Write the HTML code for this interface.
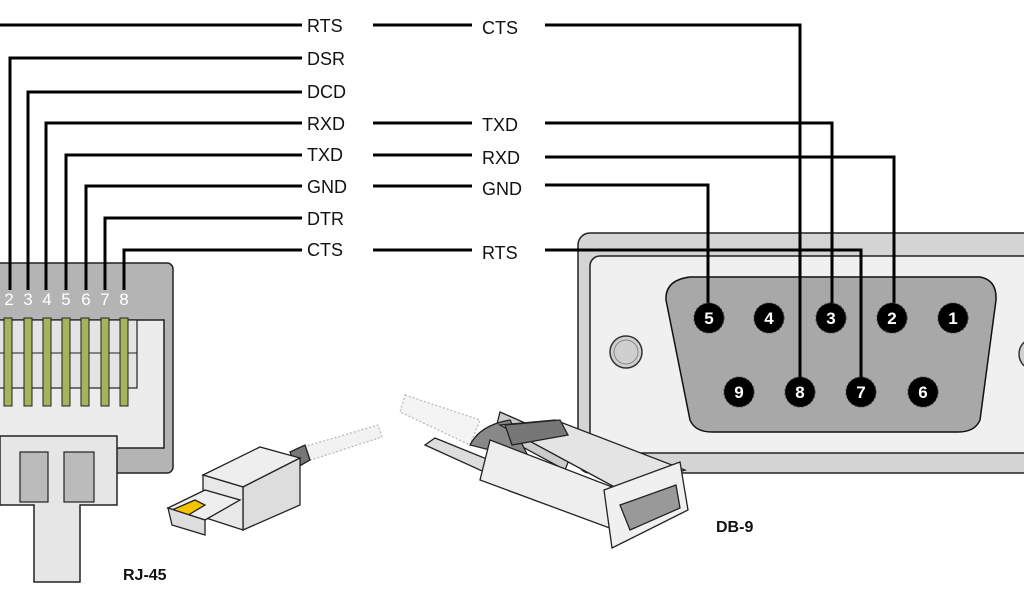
<!DOCTYPE html>
<html><head><style>
html,body{margin:0;padding:0;background:#fff;width:1024px;height:600px;overflow:hidden}
svg text{font-family:"Liberation Sans",sans-serif}
</style></head><body>
<svg width="1024" height="600" viewBox="0 0 1024 600" xmlns="http://www.w3.org/2000/svg">
<!-- DB9 panel -->
<rect x="578" y="233" width="460" height="240" rx="12" fill="#d4d4d4" stroke="#222" stroke-width="1.5"/>
<rect x="590" y="256" width="450" height="197" rx="10" fill="#f0f0f0" stroke="#222" stroke-width="1.5"/>
<path d="M690 277 L980 277 Q997 280 996 300 L980 420 Q975 432 958 432 L712 432 Q695 432 690 420 L666 300 Q665 280 690 277 Z" fill="#a8a8a8" stroke="#111" stroke-width="1.5"/>
<circle cx="626" cy="352" r="16" fill="#d0d0d0" stroke="#333" stroke-width="1.5"/>
<circle cx="626" cy="352" r="12" fill="#cfcfcf" stroke="#888" stroke-width="1"/>
<circle cx="1035" cy="354" r="16" fill="#d0d0d0" stroke="#333" stroke-width="1.5"/>
<!-- RJ45 big -->
<rect x="-10" y="263" width="183" height="210" rx="6" fill="#b4b4b4" stroke="#222" stroke-width="1.5"/>
<rect x="-10" y="320" width="174" height="128" fill="#ececec" stroke="#222" stroke-width="1.5"/>
<rect x="-10" y="320" width="147" height="68" fill="#e4e4e4" stroke="#222" stroke-width="1.2"/>
<line x1="0" y1="353" x2="137" y2="353" stroke="#222" stroke-width="1"/>
<path d="M0 436 L117 436 L117 505 L80 505 L80 582 L34 582 L34 505 L0 505 Z" fill="#e6e6e6" stroke="#222" stroke-width="1.5"/>
<rect x="20" y="452" width="28" height="50" fill="#bbb" stroke="#222" stroke-width="1.2"/>
<rect x="64" y="452" width="30" height="50" fill="#bbb" stroke="#222" stroke-width="1.2"/>
<g fill="#a7b35a" stroke="#222" stroke-width="1">
<rect x="4" y="318" width="8" height="88"/><rect x="24" y="318" width="8" height="88"/><rect x="43" y="318" width="8" height="88"/><rect x="62" y="318" width="8" height="88"/><rect x="81" y="318" width="8" height="88"/><rect x="101" y="318" width="8" height="88"/><rect x="120" y="318" width="8" height="88"/>
</g>
<g fill="#fff" font-size="17" text-anchor="middle">
<text x="9" y="305">2</text><text x="28" y="305">3</text><text x="47" y="305">4</text><text x="66" y="305">5</text><text x="86" y="305">6</text><text x="105" y="305">7</text><text x="124" y="305">8</text>
</g>
<!-- wires -->
<g fill="none" stroke="#000" stroke-width="3">
<path d="M0 25 H302"/>
<path d="M10 290 V58 H302"/>
<path d="M28 290 V92 H302"/>
<path d="M46 290 V123 H302"/>
<path d="M66 290 V155 H302"/>
<path d="M86 290 V186 H302"/>
<path d="M105 290 V218 H302"/>
<path d="M124 290 V250 H302"/>
<path d="M373 25 H472"/><path d="M373 123 H472"/><path d="M373 155 H472"/><path d="M373 186 H472"/><path d="M373 250 H472"/>
<path d="M545 25 H800 V392"/>
<path d="M545 123 H832 V318"/>
<path d="M545 157 H894 V318"/>
<path d="M545 185 H708 V318"/>
<path d="M545 250 H861 V392"/>
</g>
<g font-size="18" fill="#111">
<text x="307" y="32">RTS</text><text x="307" y="65">DSR</text><text x="307" y="98">DCD</text><text x="307" y="130">RXD</text><text x="307" y="161">TXD</text><text x="307" y="193">GND</text><text x="307" y="225">DTR</text><text x="307" y="256">CTS</text>
<text x="482" y="34">CTS</text><text x="482" y="131">TXD</text><text x="482" y="164">RXD</text><text x="482" y="195">GND</text><text x="482" y="259">RTS</text>
</g>
<!-- DB9 pins -->
<g fill="#000" stroke="#333" stroke-width="1" stroke-dasharray="2 2">
<circle cx="709" cy="318" r="15"/><circle cx="769" cy="318" r="15"/><circle cx="831" cy="318" r="15"/><circle cx="892" cy="318" r="15"/><circle cx="953" cy="318" r="15"/>
<circle cx="739" cy="392" r="15"/><circle cx="800" cy="392" r="15"/><circle cx="861" cy="392" r="15"/><circle cx="923" cy="392" r="15"/>
</g>
<g fill="#fff" font-size="17" font-weight="bold" text-anchor="middle">
<text x="709" y="324">5</text><text x="769" y="324">4</text><text x="831" y="324">3</text><text x="892" y="324">2</text><text x="953" y="324">1</text>
<text x="739" y="398">9</text><text x="800" y="398">8</text><text x="861" y="398">7</text><text x="923" y="398">6</text>
</g>
<!-- small RJ45 plug -->
<g stroke="#222" stroke-width="1.3">
<path d="M300 448 L378 425 L382 437 L305 462 Z" fill="#f2f2f2" stroke="#bbb" stroke-dasharray="2 2"/>
<path d="M290 452 L305 445 L310 460 L296 468 Z" fill="#777"/>
<path d="M203 475 L260 447 L300 458 L243 487 Z" fill="#eee"/>
<path d="M243 487 L300 458 L300 505 L243 530 Z" fill="#ddd"/>
<path d="M203 475 L243 487 L243 530 L203 517 Z" fill="#e8e8e8"/>
<path d="M168 508 L205 490 L240 500 L205 520 Z" fill="#eee"/>
<path d="M172 510 L195 500 L205 505 L185 517 Z" fill="#f4c400"/>
<path d="M168 508 L205 520 L205 535 L172 525 Z" fill="#ddd"/>
</g>
<!-- DB9 small connector -->
<g stroke="#222" stroke-width="1.3">
<path d="M405 395 L480 420 L470 445 L400 412 Z" fill="#f4f4f4" stroke="#bbb" stroke-dasharray="2 2"/>
<path d="M425 445 L590 520 L600 505 L435 438 Z" fill="#ddd"/>
<path d="M500 412 L575 445 L565 470 L495 432 Z" fill="#ccc"/>
<path d="M470 445 Q480 425 510 420 L530 460 Z" fill="#888"/>
<path d="M500 425 L555 420 L685 470 L620 490 Z" fill="#e4e4e4"/>
<path d="M505 425 L560 420 L568 435 L512 445 Z" fill="#777"/>
<path d="M490 440 L620 490 L615 530 L480 480 Z" fill="#eee"/>
<path d="M604 490 L680 462 L688 510 L612 548 Z" fill="#f0f0f0"/>
<path d="M620 505 L676 485 L680 508 L630 530 Z" fill="#999"/>
</g>
<g font-size="16" font-weight="bold" fill="#111">
<text x="123" y="580">RJ-45</text>
<text x="716" y="532">DB-9</text>
</g>
</svg>
</body></html>
